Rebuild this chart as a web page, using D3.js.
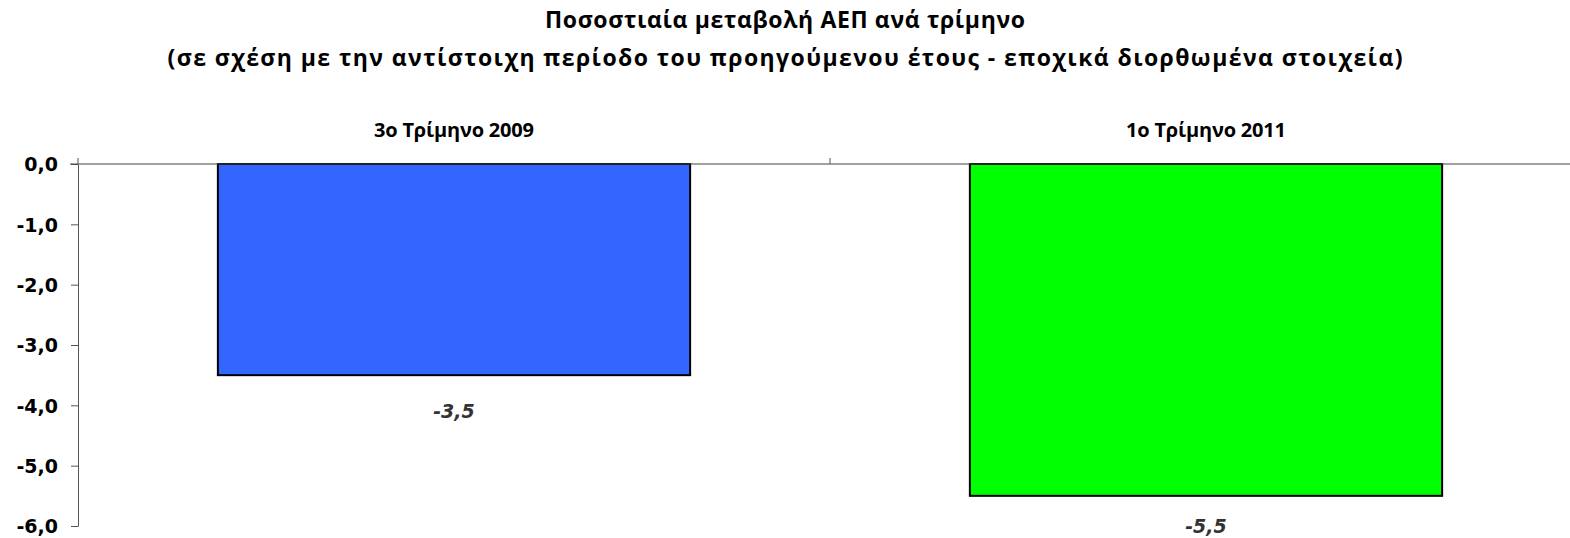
<!DOCTYPE html>
<html><head><meta charset="utf-8">
<script src="https://cdn.jsdelivr.net/npm/d3@7"></script>
<style>body{margin:0;background:#fff}svg{display:block}</style>
</head><body>
<script>
const titleLines = ["Ποσοστιαία μεταβολή ΑΕΠ ανά τρίμηνο","(σε σχέση με την αντίστοιχη περίοδο του προηγούμενου έτους - εποχικά διορθωμένα στοιχεία)"];
const categories = ["3ο Τρίμηνο 2009","1ο Τρίμηνο 2011"];
const values = [-3.5, -5.5];
const colors = ["#3366FF","#00FF00"];
const yTicks = [0,-1,-2,-3,-4,-5,-6];

const W=1570,H=538;
const svg=d3.select("body").append("svg").attr("width",W).attr("height",H);
const x=d3.scaleBand().domain(categories).range([78,1582]).paddingInner(0.372).paddingOuter(0.186);
const y=d3.scaleLinear().domain([-6,0]).range([526,164]);
const fmt=d=>d3.format(".1f")(d).replace(".",",").replace("−","-");
const titleWidths=[480,1235];

svg.selectAll("text.title").data(titleLines).join("text").attr("class","title")
 .attr("x",785).attr("y",(d,i)=>28+i*38).attr("text-anchor","middle")
 .attr("textLength",(d,i)=>titleWidths[i]).attr("lengthAdjust","spacing")
 .style("font-family","'Open Sans',sans-serif").style("font-weight","bold").style("font-size","23px").text(d=>d);

// bars
svg.selectAll("rect.bar").data(values).join("rect")
 .attr("x",(d,i)=>x(categories[i])).attr("width",x.bandwidth())
 .attr("y",y(0)).attr("height",d=>y(d)-y(0))
 .attr("fill",(d,i)=>colors[i]).attr("stroke","#000").attr("stroke-width",2);

// y axis
const ya=svg.append("g").attr("transform","translate(78,0)").call(d3.axisLeft(y).tickValues(yTicks).tickFormat(fmt).tickSize(7).tickSizeOuter(0));
ya.select(".domain").attr("stroke","#555");
ya.selectAll(".tick line").attr("stroke","#555");
ya.selectAll("text").attr("x",-20).attr("dy","0.36em").style("font-family","'DejaVu Sans',Verdana,sans-serif").style("font-weight","bold").style("font-size","19px").attr("fill","#000");

// zero line / category axis
svg.append("line").attr("x1",70).attr("x2",W).attr("y1",y(0)).attr("y2",y(0)).attr("stroke","#444");
const bounds=[78, (x(categories[0])+x.bandwidth()+x(categories[1]))/2];
svg.selectAll("line.ct").data(bounds).join("line").attr("x1",d=>d).attr("x2",d=>d).attr("y1",y(0)-6).attr("y2",y(0)).attr("stroke","#555");

// category labels
svg.selectAll("text.cat").data(categories).join("text").attr("class","cat")
 .attr("x",d=>x(d)+x.bandwidth()/2).attr("y",137).attr("text-anchor","middle")
 .attr("textLength",160).attr("lengthAdjust","spacing")
 .style("font-family","'Open Sans',sans-serif").style("font-weight","bold").style("font-size","20px").text(d=>d);

// value labels
svg.selectAll("text.val").data(values).join("text").attr("class","val")
 .attr("x",(d,i)=>x(categories[i])+x.bandwidth()/2).attr("y",d=>Math.min(y(d)+43,533)).attr("text-anchor","middle")
 .style("font-family","'DejaVu Sans',Verdana,sans-serif").style("font-weight","bold").style("font-style","italic").style("font-size","19px").attr("fill","#333").text(d=>fmt(d));
</script>
</body></html>
